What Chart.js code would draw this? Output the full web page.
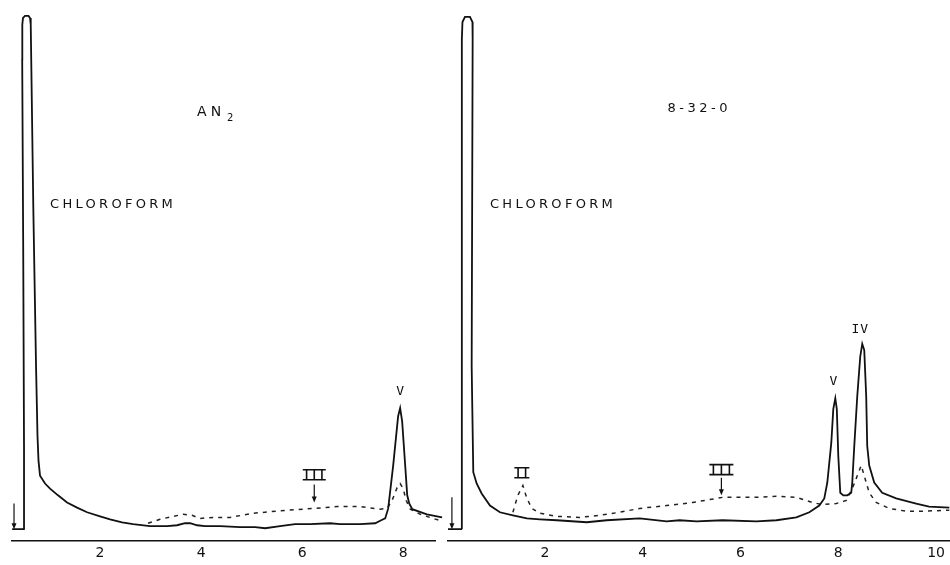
<!DOCTYPE html>
<html>
<head>
<meta charset="utf-8">
<script src="https://cdn.jsdelivr.net/npm/chart.js@4.4.0/dist/chart.umd.min.js"></script>
<style>
html,body{margin:0;padding:0;background:#fff;}
#wrap{position:relative;width:950px;height:565px;overflow:hidden;background:#fff;}
canvas{position:absolute;top:0;}
#an{left:0px}
#sample{left:447px}
</style>
</head>
<body>
<div id="wrap">
<canvas id="an" width="447" height="565"></canvas>
<canvas id="sample" width="503" height="565"></canvas>
</div>
<script>
/************************************************************************************/
// x : retention time (min), y : recorder response (% of full scale)
var anTicks = [2,4,6,8]
var sampleTicks = [2,4,6,8,10]

// AN2 standard - solid trace
var anSolid = [
  [0.26,0],[0.51,0],[0.495,16.2],[0.479,54.8],[0.459,91.5],[0.461,98.3],[0.475,99.6],
  [0.515,100],[0.584,100],[0.614,99.6],[0.628,98.3],[0.679,62.5],[0.733,31.7],[0.762,18.1],
  [0.782,13.3],[0.812,10.4],[0.911,8.9],[1.01,7.9],[1.168,6.6],[1.347,5.2],[1.545,4.2],
  [1.743,3.3],[2.0,2.5],[2.198,1.9],[2.436,1.35],[2.653,0.97],[2.99,0.58],[3.327,0.58],
  [3.525,0.77],[3.683,1.16],[3.782,1.16],[3.921,0.77],[4.079,0.58],[4.376,0.58],[4.772,0.39],
  [5.069,0.39],[5.267,0.19],[5.564,0.58],[5.861,0.97],[6.158,0.97],[6.554,1.16],[6.752,0.97],
  [7.149,0.97],[7.446,1.16],[7.564,1.74],[7.644,2.1],[7.703,4.0],[7.802,12.4],[7.90,22.0],
  [7.94,23.6],[7.98,21.0],[8.04,12.4],[8.08,6.6],[8.12,5.0],[8.18,3.9],[8.47,2.9],[8.77,2.3]
]
// AN2 standard - dashed trace
var anDash = [
  [2.95,1.16],[3.188,1.93],[3.446,2.5],[3.644,2.9],[3.822,2.7],[3.98,2.1],[4.238,2.3],
  [4.574,2.3],[5.03,3.1],[5.703,3.7],[6.238,4.05],[6.693,4.4],[7.149,4.4],[7.545,3.9],
  [7.683,4.05],[7.78,5.6],[7.88,8.1],[7.94,8.9],[8.0,7.9],[8.06,5.6],[8.14,3.9],[8.34,2.9],
  [8.59,2.1],[8.79,1.5]
]
// sample 8-32-0 - solid trace
var sampleSolid = [
  [0.02,0],[0.306,0],[0.306,45.2],[0.30,95.4],[0.316,98.8],[0.367,99.8],[0.469,99.8],
  [0.52,98.8],[0.524,95.4],[0.504,31.7],[0.537,11.1],[0.606,8.9],[0.708,6.95],[0.878,4.6],
  [1.082,3.3],[1.347,2.7],[1.633,2.1],[1.898,1.93],[2.245,1.74],[2.857,1.35],[3.265,1.74],
  [3.939,2.1],[4.49,1.54],[4.755,1.74],[5.102,1.54],[5.633,1.74],[6.327,1.54],[6.735,1.74],
  [7.143,2.3],[7.408,3.3],[7.612,4.6],[7.714,6.0],[7.776,9.1],[7.857,16.8],[7.898,23.4],
  [7.939,25.5],[7.97,23.4],[8.0,14.3],[8.041,7.1],[8.102,6.6],[8.184,6.6],[8.265,7.1],
  [8.286,9.1],[8.327,16.2],[8.388,25.9],[8.449,33.6],[8.49,36.1],[8.531,34.9],[8.571,25.9],
  [8.592,16.2],[8.633,12.4],[8.735,9.1],[8.898,7.1],[9.184,6.0],[9.592,5.0],[9.857,4.4],
  [10.27,4.2]
]
// sample 8-32-0 - dashed trace
var sampleDash = [
  [1.347,3.3],[1.449,6.6],[1.551,8.5],[1.633,6.0],[1.735,4.05],[1.898,3.1],[2.245,2.5],
  [2.714,2.3],[3.122,2.7],[3.531,3.3],[3.939,4.05],[4.49,4.6],[5.02,5.2],[5.633,6.2],
  [6.327,6.2],[6.735,6.4],[7.143,6.2],[7.469,5.2],[7.673,4.8],[7.959,5.0],[8.163,5.6],
  [8.286,7.9],[8.388,10.4],[8.469,12.4],[8.531,10.4],[8.633,7.1],[8.776,5.2],[9.041,4.05],
  [9.388,3.5],[9.714,3.5],[10.27,3.7]
]

// text notes : [text, x, y, align, size, spacing, font]
var anText = [
  ['AN',3.92,81.3,'left',14,4,'"DejaVu Sans"'],
  ['2',4.515,80.0,'left',10,0,'"DejaVu Sans"'],
  ['CHLOROFORM',1.01,63.3,'left',13,3.3,'"DejaVu Sans"'],
  ['V',7.94,26.8,'center',13,0,'"DejaVu Sans Mono"']
]
var sampleText = [
  ['8-32-0',4.51,81.9,'left',13,3.5,'"DejaVu Sans"'],
  ['CHLOROFORM',0.878,63.3,'left',13,3.3,'"DejaVu Sans"'],
  ['V',7.9,28.8,'center',13,0,'"DejaVu Sans Mono"'],
  ['IV',8.45,38.8,'center',13,1,'"DejaVu Sans Mono"']
]
// barred roman numerals : [strokes, x, y, width]
var anRoman = [[3,6.24,10.6,23]]
var sampleRoman = [[2,1.53,11.0,15],[3,5.61,11.6,24]]
// arrows : [x, y from, y to]
var anArrows = [[0.297,5.0,0],[6.24,8.7,5.2]]
var sampleArrows = [[0.1,6.2,0],[5.61,10.0,6.6]]

function pts(list){
  return list.map(function(p){ return {x:p[0], y:p[1]} })
}

function notes(texts, romans, arrows){
  return {
    id:'notes',
    afterDatasetsDraw:function(chart){
      var ctx = chart.ctx
      var sx = chart.scales.x
      var sy = chart.scales.y
      ctx.save()
      ctx.fillStyle = '#111'
      ctx.strokeStyle = '#111'
      ctx.textBaseline = 'middle'
      texts.forEach(function(t){
        ctx.font = t[4]+'px '+t[6]
        ctx.letterSpacing = t[5]+'px'
        ctx.textAlign = t[3]
        ctx.fillText(t[0], sx.getPixelForValue(t[1]), sy.getPixelForValue(t[2]))
      })
      ctx.letterSpacing = '0px'
      ctx.lineWidth = 1.6
      romans.forEach(function(r){
        var cx = sx.getPixelForValue(r[1])
        var cy = sy.getPixelForValue(r[2])
        var left = cx - r[3]/2
        ctx.beginPath()
        ctx.moveTo(left, cy-5); ctx.lineTo(left+r[3], cy-5)
        ctx.moveTo(left, cy+5); ctx.lineTo(left+r[3], cy+5)
        for(var i = 0 ; i < r[0] ; i++){
          var xx = left + r[3]*(i+0.5)/r[0]
          ctx.moveTo(xx, cy-5); ctx.lineTo(xx, cy+5)
        }
        ctx.stroke()
      })
      ctx.lineWidth = 1.2
      arrows.forEach(function(a){
        var ax = sx.getPixelForValue(a[0])
        var y1 = sy.getPixelForValue(a[1])
        var y2 = sy.getPixelForValue(a[2])
        ctx.beginPath()
        ctx.moveTo(ax, y1); ctx.lineTo(ax, y2-5)
        ctx.stroke()
        ctx.beginPath()
        ctx.moveTo(ax-2.5, y2-6); ctx.lineTo(ax+2.5, y2-6); ctx.lineTo(ax, y2)
        ctx.closePath()
        ctx.fill()
      })
      ctx.restore()
    }
  }
}

function makeChart(id, solid, dash, ticks, xmin, xmax, pad, texts, romans, arrows){
  return new Chart(document.getElementById(id).getContext('2d'), {
    type:'line',
    plugins:[notes(texts, romans, arrows)],
    data:{
      datasets:[{
        data:pts(solid),
        borderColor:'#111',
        borderWidth:1.8,
        pointRadius:0,
        tension:0,
        clip:false
      },
      {
        data:pts(dash),
        borderColor:'#222',
        borderWidth:1.5,
        borderDash:[4,5],
        pointRadius:0,
        tension:0,
        clip:false
      }]
    },
    options:{
      responsive:false,
      animation:false,
      layout:{padding:pad},
      plugins:{
        legend:{display:false},
        tooltip:{enabled:false}
      },
      scales:{
        x:{
          type:'linear',
          min:xmin,
          max:xmax,
          afterBuildTicks:function(axis){
            axis.ticks = ticks.map(function(v){ return {value:v} })
          },
          grid:{display:false, drawTicks:false, tickLength:0},
          border:{display:true, color:'#111', width:1.5},
          ticks:{
            color:'#111',
            padding:5,
            maxRotation:0,
            autoSkip:false,
            font:{family:'"DejaVu Sans"', size:14, lineHeight:1}
          }
        },
        y:{
          display:false,
          min:-2.3,
          max:103.1
        }
      }
    }
  })
}

var chart1 = makeChart('an', anSolid, anDash, anTicks, 0.257, 8.63,
  {left:12, right:12, top:0, bottom:0}, anText, anRoman, anArrows)
var chart2 = makeChart('sample', sampleSolid, sampleDash, sampleTicks, 0.02, 10.27,
  {left:1, right:0, top:0, bottom:0}, sampleText, sampleRoman, sampleArrows)
</script>
</body>
</html>
